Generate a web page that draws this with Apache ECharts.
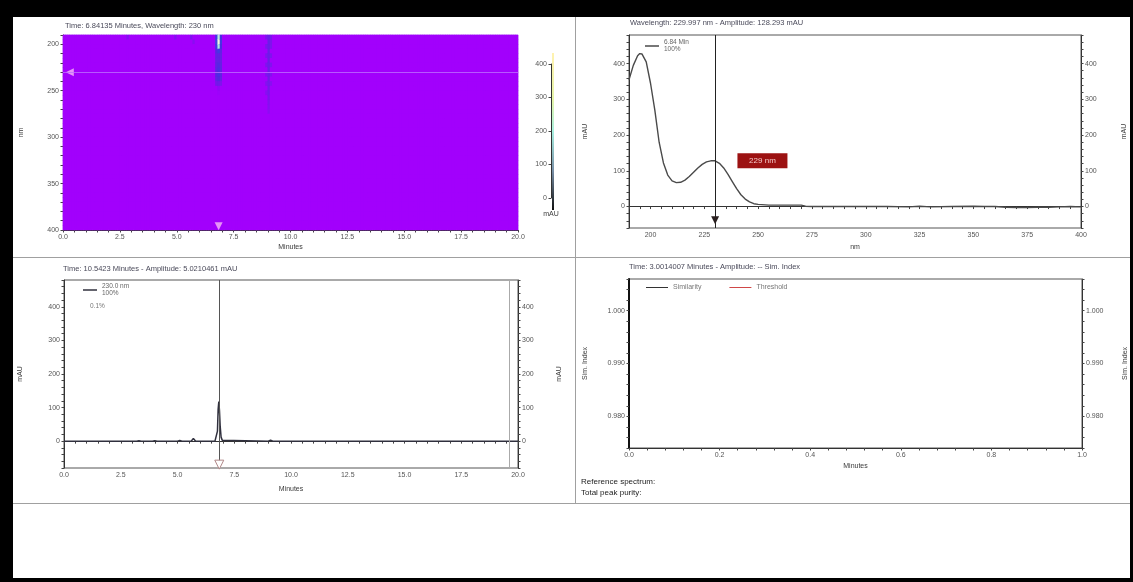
<!DOCTYPE html>
<html><head><meta charset="utf-8">
<script src="https://cdn.jsdelivr.net/npm/echarts@6/dist/echarts.min.js"></script>
<style>
html,body{margin:0;padding:0;background:#fff;width:1133px;height:582px;overflow:hidden;position:relative}
#c{position:absolute;left:0;top:0;width:1133px;height:582px}
.b{position:absolute;background:#000}
.s{position:absolute;background:#a0a0a0}
</style></head><body>
<div class="s" style="left:13px;top:257px;width:1120px;height:1px"></div>
<div class="s" style="left:575px;top:17px;width:1px;height:486px"></div>
<div class="s" style="left:13px;top:503px;width:1120px;height:1px"></div>
<div id="c"></div>
<div class="b" style="left:0;top:0;width:1133px;height:17px"></div>
<div class="b" style="left:0;top:0;width:13px;height:582px"></div>
<div class="b" style="left:0;top:578px;width:1133px;height:4px"></div>
<div class="b" style="left:1130px;top:0;width:3px;height:582px"></div>
<script>
// ---------- DATA ----------
// Heatmap bins (minutes x wavelength nm)
const heatTimes = []; for (let i = 0; i < 200; i++) heatTimes.push((i / 10).toFixed(1));
const heatWavelengths = []; for (let w = 190; w < 400; w += 5) heatWavelengths.push(w);
const heatBaseline = 0; // whole map reads ~0 mAU (uniform purple)
const heatSpots = [
  // [time bin, wavelength bin, mAU]
  [6.8,190,355],[6.8,195,428],[6.8,200,345],[6.8,205,150],[6.8,210,72],[6.8,215,70],[6.8,220,96],
  [6.8,225,120],[6.8,230,128],[6.8,235,100],[6.8,240,50],[6.8,245,17],[6.8,250,6],
  [6.7,190,150],[6.7,195,170],[6.7,200,140],[6.7,205,90],[6.7,210,70],[6.7,215,68],[6.7,220,75],
  [6.7,225,85],[6.7,230,90],[6.7,235,75],[6.7,240,45],
  [6.9,190,120],[6.9,195,140],[6.9,200,110],[6.9,205,75],[6.9,210,60],[6.9,215,58],[6.9,220,65],
  [6.9,225,72],[6.9,230,75],[6.9,235,60],[6.9,240,35],
  [9.0,190,60],[9.0,195,60],[9.0,200,58],[9.0,205,56],[9.0,210,55],[9.0,215,55],[9.0,220,54],
  [9.0,225,54],[9.0,230,52],[9.0,235,50],[9.0,240,48],[9.0,245,46],[9.0,250,44],[9.0,255,40],
  [9.0,260,32],[9.0,265,28],[9.0,270,22],
  [8.9,190,38],[8.9,200,36],[8.9,210,35],[8.9,220,35],[8.9,230,34],[8.9,240,30],[8.9,250,25],
  [9.1,190,38],[9.1,195,36],[9.1,200,35],[9.1,210,34],[9.1,220,33],[9.1,230,30],[9.1,240,26],
  [2.8,190,30],[4.9,190,30],[5.6,190,35],[5.7,195,25]
];
const heatCursorTime = 6.84, heatCursorWl = 230;
const colorbarTicks = [0, 100, 200, 300, 400];

// Spectrum at 6.84 min
const specWavelengths = [190,192,194,195,196,198,200,202,204,206,208,210,212,214,216,218,220,222,224,226,228,230,
  232,234,236,238,240,242,244,246,248,250,255,260,265,270,272,275,280,290,300,310,320,325,330,340,350,355,360,365,370,375,380,385,390,395,400];
const specValues = [355,395,422,428,427,405,345,270,180,122,88,72,67,68,74,84,96,108,118,125,128,128,
  121,108,90,70,50,33,21,13,8,6,4,4,4,4,1,0,0,0,0,0,-1,1,-1,0,1,0,0,-2,-3,-3,-2,-2,-1,0,-1];
const specCursor = 230, specLabel = '229 nm', specLabelAt = [252, 128];

// Chromatogram at 230 nm
const chromTimes  = [0,3.2,3.3,3.4,3.9,4.0,4.1,5.0,5.1,5.2,5.6,5.7,5.8,6.65,6.72,6.76,6.79,6.82,6.85,6.88,6.92,6.97,7.05,9.0,9.1,9.2,20];
const chromValues = [0,0,1,0,0,1.5,0,0,2,0,0,8,0,0,3,30,95,118,90,45,12,3,0,0,3,0,0];
const chromCursor = 6.84, chromEndMarker = 19.6;

// Tick labels
const minuteTicks = [0,2.5,5,7.5,10,12.5,15,17.5,20];
const nmTicksHeat = [200,250,300,350,400];
const nmTicksSpec = [200,225,250,275,300,325,350,375,400];
const mauTicks = [0,100,200,300,400];
const simTicks = [0.98,0.99,1.0];
const simXTicks = [0,0.2,0.4,0.6,0.8,1.0];

// ---------- BUILD ----------
const heatData = [];
const spotMap = {};
heatSpots.forEach(s => { spotMap[s[0].toFixed(1) + '_' + s[1]] = s[2]; });
heatTimes.forEach((t, i) => heatWavelengths.forEach((w, j) => {
  const v = spotMap[t + '_' + w];
  heatData.push([i, j, v === undefined ? heatBaseline : v]);
}));
const specData = specWavelengths.map((w, i) => [w, specValues[i]]);
const chromData = chromTimes.map((t, i) => [t, chromValues[i]]);

const F = '"Liberation Sans", Arial, sans-serif';
const TXT = '#3a3a3a';
function ax(o) {
  const base = {
    type: 'value',
    axisLine: {show: true, lineStyle: {color: '#333', width: 1}},
    axisTick: {show: true, length: 2.5, lineStyle: {color: '#444'}},
    splitLine: {show: false},
    nameTextStyle: {fontSize: 7, color: TXT, fontFamily: F},
  };
  const lab = Object.assign({fontSize: 7, color: '#555', fontFamily: F, margin: 4}, o.axisLabel || {});
  const r = Object.assign(base, o);
  r.axisLabel = lab;
  return r;
}
const grids = [
  {left: 63, top: 35, width: 455, height: 195, show: true, backgroundColor: '#a200fc', borderColor: '#c9a0f0', borderWidth: 1},
  {left: 551, top: 64, width: 1, height: 134},
  {left: 629, top: 35, width: 452, height: 193, show: true, borderColor: '#555', borderWidth: 1},
  {left: 64, top: 280, width: 454, height: 188, show: true, borderColor: '#555', borderWidth: 1},
  {left: 629, top: 279, width: 453, height: 169, show: true, borderColor: '#555', borderWidth: 1}
].map(g => Object.assign({outerBoundsMode: 'none', containLabel: false}, g));

const option = {
  animation: false,
  textStyle: {fontFamily: F},
  title: [
    {text: 'Time: 6.84135 Minutes, Wavelength: 230 nm', left: 65, top: 22},
    {text: 'Wavelength: 229.997 nm - Amplitude: 128.293 mAU', left: 630, top: 19},
    {text: 'Time: 10.5423 Minutes - Amplitude: 5.0210461 mAU', left: 63, top: 265},
    {text: 'Time: 3.0014007 Minutes - Amplitude: -- Sim. Index', left: 629, top: 263}
  ].map(t => Object.assign(t, {padding: 0, textStyle: {fontSize: 7.5, fontWeight: 'normal', color: '#4a4a5a', fontFamily: F}})),
  grid: grids,
  xAxis: [
    {type: 'category', gridIndex: 0, data: heatTimes, show: false, position: 'top', boundaryGap: true},
    ax({gridIndex: 0, min: 0, max: 20, interval: 0.5, name: 'Minutes', nameLocation: 'middle', nameGap: 14,
        axisLabel: {customValues: minuteTicks, formatter: v => v.toFixed(1)}}),
    {type: 'value', gridIndex: 1, min: 0, max: 1, show: false},
    ax({gridIndex: 2, min: 190, max: 400, interval: 5, name: 'nm', nameLocation: 'middle', nameGap: 16,
        axisLabel: {customValues: nmTicksSpec, formatter: v => String(v)}}),
    ax({gridIndex: 3, min: 0, max: 20, interval: 0.5, name: 'Minutes', nameLocation: 'middle', nameGap: 18,
        axisLabel: {customValues: minuteTicks, formatter: v => v.toFixed(1)}}),
    ax({gridIndex: 4, min: 0, max: 1, interval: 0.04, name: 'Minutes', nameLocation: 'middle', nameGap: 15,
        axisLabel: {customValues: simXTicks, formatter: v => v.toFixed(1)}})
  ],
  yAxis: [
    {type: 'category', gridIndex: 0, data: heatWavelengths, show: false, inverse: true, position: 'right', boundaryGap: true},
    ax({gridIndex: 0, min: 190, max: 400, interval: 10, inverse: true, name: 'nm', nameLocation: 'middle', nameGap: 38,
        axisLabel: {customValues: nmTicksHeat, formatter: v => String(v)}}),
    ax({gridIndex: 1, min: 0, max: 400, interval: 100, name: 'mAU', nameLocation: 'start', nameGap: 13,
        axisLabel: {customValues: colorbarTicks, formatter: v => String(v)}}),
    ax({gridIndex: 2, min: -60, max: 480, interval: 20, name: 'mAU', nameLocation: 'middle', nameGap: 40,
        axisLabel: {customValues: mauTicks, formatter: v => String(v)}}),
    ax({gridIndex: 2, min: -60, max: 480, interval: 20, position: 'right', name: 'mAU', nameLocation: 'middle', nameGap: 40,
        axisLabel: {customValues: mauTicks, formatter: v => String(v)}}),
    ax({gridIndex: 3, min: -80, max: 480, interval: 20, name: 'mAU', nameLocation: 'middle', nameGap: 40,
        axisLabel: {customValues: mauTicks, formatter: v => String(v)}}),
    ax({gridIndex: 3, min: -80, max: 480, interval: 20, position: 'right', name: 'mAU', nameLocation: 'middle', nameGap: 38,
        axisLabel: {customValues: mauTicks, formatter: v => String(v)}}),
    ax({gridIndex: 4, min: 0.974, max: 1.006, interval: 0.002, name: 'Sim. Index', nameLocation: 'middle', nameGap: 40,
        axisLine: {show: true, lineStyle: {color: '#111', width: 2}},
        axisLabel: {customValues: simTicks, formatter: v => v.toFixed(3)}}),
    ax({gridIndex: 4, min: 0.974, max: 1.006, interval: 0.002, position: 'right', name: 'Sim. Index', nameLocation: 'middle', nameGap: 40,
        axisLabel: {customValues: simTicks, formatter: v => v.toFixed(3)}})
  ],
  visualMap: [{
    type: 'continuous', seriesIndex: 0, min: 0, max: 450, show: false,
    inRange: {color: ['#a200fc', '#6a1ee6', '#4c2ce0', '#3c40e4', '#3a70f0', '#5ab0f0', '#a0e8e0', '#e8f8d0', '#fffbe0']}
  }],
  legend: [
    {data: ['6.84 Min'], left: 645, top: 39, icon: 'rect', itemWidth: 14, itemHeight: 1.5, padding: 0,
     formatter: () => '6.84 Min\n100%', textStyle: {fontSize: 6.5, color: '#666', fontFamily: F, lineHeight: 7}},
    {data: ['230.0 nm'], left: 83, top: 283, icon: 'rect', itemWidth: 14, itemHeight: 1.5, padding: 0,
     formatter: () => '230.0 nm\n100%', textStyle: {fontSize: 6.5, color: '#666', fontFamily: F, lineHeight: 7}},
    {data: ['Similarity', 'Threshold'], left: 646, top: 284, icon: 'rect', itemWidth: 22, itemHeight: 1, itemGap: 28, padding: 0,
     textStyle: {fontSize: 7, color: '#777', fontFamily: F}}
  ],
  graphic: [
    {type: 'rect', shape: {x: 552, y: 53, width: 2, height: 157}, silent: true,
     style: {fill: new echarts.graphic.LinearGradient(0, 0, 0, 1, [
       {offset: 0, color: '#fff2b0'}, {offset: 0.3, color: '#e4f4a8'}, {offset: 0.5, color: '#a8f0e0'},
       {offset: 0.75, color: '#7890a8'}, {offset: 1, color: '#101010'}])}},
    {type: 'text', left: 90, top: 303, style: {text: '0.1%', fontSize: 6.5, fill: '#777', fontFamily: F}},
    {type: 'text', left: 581, top: 478, style: {text: 'Reference spectrum:', fontSize: 8, fill: '#222', fontFamily: F}},
    {type: 'text', left: 581, top: 489, style: {text: 'Total peak purity:', fontSize: 8, fill: '#222', fontFamily: F}}
  ],
  series: [
    {type: 'heatmap', xAxisIndex: 0, yAxisIndex: 0, data: heatData, progressive: 0, silent: true,
     itemStyle: {borderWidth: 0}, emphasis: {disabled: true}},
    {type: 'scatter', xAxisIndex: 1, yAxisIndex: 1, silent: true, symbol: 'triangle', symbolSize: 8,
     itemStyle: {color: '#f7b8f4'},
     data: [{value: [0.3, heatCursorWl], symbolRotate: 90}, {value: [heatCursorTime, 396], symbolRotate: 180}],
     markLine: {silent: true, symbol: 'none', label: {show: false},
       lineStyle: {color: 'rgba(190,110,255,0.8)', width: 1, type: 'solid'}, data: [{yAxis: heatCursorWl}]}},
    {name: '6.84 Min', type: 'line', xAxisIndex: 3, yAxisIndex: 3, data: specData, showSymbol: false, silent: true,
     lineStyle: {color: '#4a4a4a', width: 1.4}, itemStyle: {color: '#4a4a4a'},
     markLine: {silent: true, symbol: 'none', label: {show: false}, lineStyle: {color: '#222', width: 1, type: 'solid'},
       data: [{xAxis: specCursor}]},
     markPoint: {silent: true, data: [
       {coord: specLabelAt, symbol: 'rect', symbolSize: [50, 15], itemStyle: {color: '#9c1212'},
        label: {show: true, formatter: specLabel, color: '#f4c8c8', fontSize: 8, fontFamily: F}},
       {coord: [specCursor, -38], symbol: 'triangle', symbolRotate: 180, symbolSize: 8, itemStyle: {color: '#2a2020'},
        label: {show: false}}
     ]}},
    {name: '230.0 nm', type: 'line', xAxisIndex: 4, yAxisIndex: 5, data: chromData, showSymbol: false, silent: true,
     lineStyle: {color: '#30303e', width: 1.5}, itemStyle: {color: '#30303e'},
     markLine: {silent: true, symbol: 'none', label: {show: false},
       data: [{xAxis: chromCursor, lineStyle: {color: '#555', width: 1, type: 'solid'}},
              {xAxis: chromEndMarker, lineStyle: {color: '#aaa', width: 1, type: 'solid'}}]},
     markPoint: {silent: true, data: [
       {coord: [chromCursor, -70], symbol: 'triangle', symbolRotate: 180, symbolSize: 9,
        itemStyle: {color: '#fff', borderColor: '#b08888', borderWidth: 1}, label: {show: false}}]}},
    {name: 'Similarity', type: 'line', xAxisIndex: 5, yAxisIndex: 7, data: [], itemStyle: {color: '#333'}, lineStyle: {color: '#333'}},
    {name: 'Threshold', type: 'line', xAxisIndex: 5, yAxisIndex: 7, data: [], itemStyle: {color: '#d04848'}, lineStyle: {color: '#d04848'}}
  ]
};
const chart = echarts.init(document.getElementById('c'), null, {renderer: 'canvas'});
chart.setOption(option);
</script>
</body></html>
